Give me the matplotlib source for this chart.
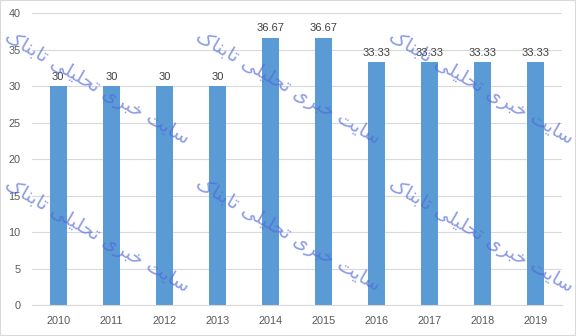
import matplotlib.pyplot as plt
from matplotlib.patches import Rectangle

years = ['2010', '2011', '2012', '2013', '2014', '2015', '2016', '2017', '2018', '2019']
values = [30, 30, 30, 30, 36.67, 36.67, 33.33, 33.33, 33.33, 33.33]
labels = ['30', '30', '30', '30', '36.67', '36.67', '33.33', '33.33', '33.33', '33.33']
watermark = 'سایت خبری تحلیلی تابناک'

# presentation forms: isolated, final, initial, medial (None = right-joining only)
FORMS = {
    'س': ('\uFEB1', '\uFEB2', '\uFEB3', '\uFEB4'),
    'ا': ('\uFE8D', '\uFE8E', None, None),
    'ی': ('\uFBFC', '\uFBFD', '\uFBFE', '\uFBFF'),
    'ت': ('\uFE95', '\uFE96', '\uFE97', '\uFE98'),
    'خ': ('\uFEA5', '\uFEA6', '\uFEA7', '\uFEA8'),
    'ب': ('\uFE8F', '\uFE90', '\uFE91', '\uFE92'),
    'ر': ('\uFEAD', '\uFEAE', None, None),
    'ح': ('\uFEA1', '\uFEA2', '\uFEA3', '\uFEA4'),
    'ل': ('\uFEDD', '\uFEDE', '\uFEDF', '\uFEE0'),
    'ن': ('\uFEE5', '\uFEE6', '\uFEE7', '\uFEE8'),
    'ک': ('\uFB8E', '\uFB8F', '\uFB90', '\uFB91'),
}


def shape(text):
    out = []
    for i, ch in enumerate(text):
        if ch not in FORMS:
            out.append(ch)
            continue
        prev = text[i - 1] if i > 0 else ' '
        nxt = text[i + 1] if i + 1 < len(text) else ' '
        joins_prev = prev in FORMS and FORMS[prev][2] is not None
        joins_next = nxt in FORMS and FORMS[ch][2] is not None
        f = FORMS[ch]
        if joins_prev and joins_next:
            out.append(f[3])
        elif joins_prev:
            out.append(f[1])
        elif joins_next:
            out.append(f[2])
        else:
            out.append(f[0])
    return ''.join(out)[::-1]


plt.rcParams['font.family'] = ['Liberation Sans', 'DejaVu Sans']

fig = plt.figure(figsize=(5.76, 3.36), dpi=100)
ax = fig.add_axes([0.055, 0.092, 0.921, 0.868])

x = range(len(years))
ax.bar(x, values, width=0.32, color='#5B9BD5', zorder=2)
for i, v in enumerate(values):
    ax.text(i, v + 0.6, labels[i], ha='center', va='bottom', fontsize=8, color='#404040', zorder=3)

ax.set_xlim(-0.5, len(years) - 0.5)
ax.set_ylim(0, 40)
ax.set_yticks(range(0, 41, 5))
ax.set_xticks(list(x))
ax.set_xticklabels(years)
ax.tick_params(length=0, labelsize=7.8, labelcolor='#595959')
ax.tick_params(axis='x', pad=8)
ax.tick_params(axis='y', pad=8)
ax.grid(axis='y', color='#D9D9D9', linewidth=0.8, zorder=0)
for s in ['top', 'right', 'left']:
    ax.spines[s].set_visible(False)
ax.spines['bottom'].set_color('#D9D9D9')

# watermark
wm = shape(watermark)
for fx, fy in [(0.168, 0.738), (0.50, 0.738), (0.835, 0.738),
               (0.168, 0.298), (0.50, 0.30), (0.835, 0.298)]:
    fig.text(fx, fy, wm, rotation=-30, ha='center', va='center', fontsize=14,
             family='DejaVu Sans', color='#5068D8', alpha=0.65, zorder=10)

fig.patches.append(Rectangle((0, 0), 1, 1, transform=fig.transFigure, fill=False,
                             edgecolor='#D9D9D9', linewidth=1.5))

fig.savefig('out.png', dpi=100)
